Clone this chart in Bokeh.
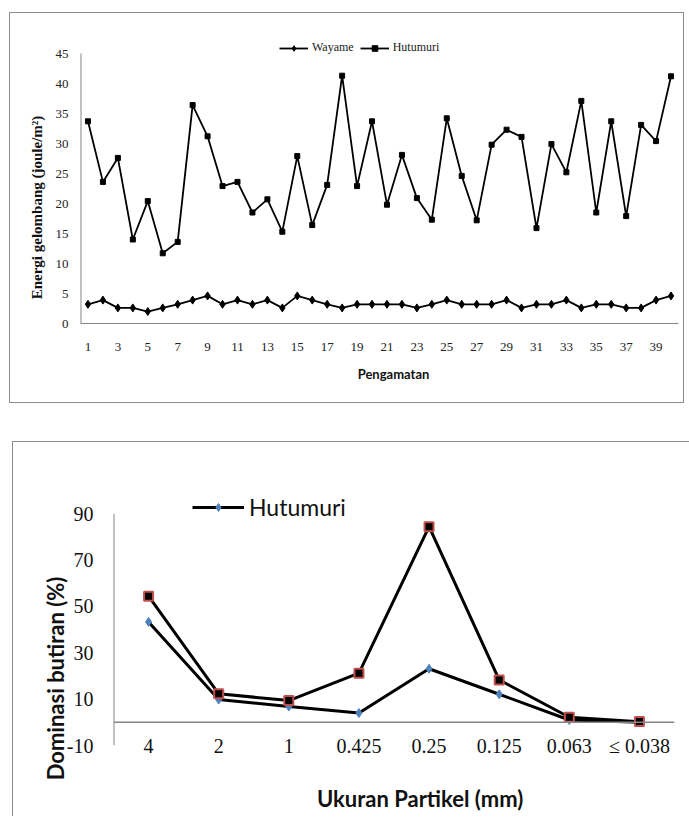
import math
from bokeh.plotting import figure
from bokeh.models import (Legend, LegendItem, Span, FixedTicker, Range1d, LinearAxis,
                          PrintfTickFormatter)
from bokeh.layouts import column
from bokeh.embed import file_html
from bokeh.resources import INLINE

# ---------------- top chart data ----------------
observations = list(range(1, 41))
wayame_energy = [3.2, 3.9, 2.6, 2.6, 2.0, 2.6, 3.2, 3.9, 4.6, 3.2,
                 3.9, 3.2, 3.9, 2.6, 4.6, 3.9, 3.2, 2.6, 3.2, 3.2,
                 3.2, 3.2, 2.6, 3.2, 3.9, 3.2, 3.2, 3.2, 3.9, 2.6,
                 3.2, 3.2, 3.9, 2.6, 3.2, 3.2, 2.6, 2.6, 3.9, 4.6]
hutumuri_energy = [33.7, 23.6, 27.6, 14.0, 20.4, 11.7, 13.6, 36.4, 31.2, 22.9,
                   23.6, 18.5, 20.7, 15.3, 27.9, 16.4, 23.1, 41.3, 22.9, 33.7,
                   19.8, 28.1, 20.9, 17.3, 34.2, 24.6, 17.2, 29.8, 32.3, 31.1,
                   15.9, 29.9, 25.2, 37.1, 18.5, 33.7, 17.9, 33.1, 30.4, 41.2]
top_x_ticks = list(range(1, 40, 2))
top_y_ticks = list(range(0, 50, 5))
top_y_title = "Energi gelombang (joule/m\u00b2)"
top_x_title = "Pengamatan"

# ---------------- bottom chart data ----------------
particle_sizes = ["4", "2", "1", "0.425", "0.25", "0.125", "0.063", "\u2264 0.038"]
hutumuri_pct = [43.3, 9.8, 6.8, 4.0, 23.1, 12.1, 1.0, 0.0]
second_pct = [54.4, 12.3, 9.4, 21.2, 84.4, 18.3, 2.2, 0.3]
bottom_y_ticks = [-10, 10, 30, 50, 70, 90]
bottom_y_title = "Dominasi butiran (%)"
bottom_x_title = "Ukuran Partikel (mm)"

# category slots for the particle sizes (one unit per size)
size_pos = [i + 0.5 for i in range(len(particle_sizes))]

AXIS_GRAY = "#868686"
FRAME_GRAY = "#8c8c8c"
SERIF = "Liberation Serif"
SANS = "Lato"


def plain_axis(ax, font, size, color, style="normal"):
    ax.major_tick_line_color = None
    ax.minor_tick_line_color = None
    ax.major_tick_out = 0
    ax.minor_tick_out = 0
    ax.major_tick_in = 0
    ax.minor_tick_in = 0
    ax.major_label_text_font = font
    ax.major_label_text_font_size = size
    ax.major_label_text_font_style = style
    ax.major_label_text_color = color


def title_axis(kind, range_name, pos, text, font, size, standoff, side_orient):
    """An axis with a single labelled position, used as a positioned axis title."""
    if kind == "y":
        ax = LinearAxis(y_range_name=range_name)
    else:
        ax = LinearAxis(x_range_name=range_name)
    ax.ticker = FixedTicker(ticks=[pos])
    ax.major_label_overrides = {pos: text}
    ax.major_label_orientation = side_orient
    ax.axis_line_color = None
    plain_axis(ax, font, size, "#111111", "bold")
    ax.major_label_standoff = standoff
    return ax


# ================= TOP CHART =================
p1 = figure(width=675, height=391, x_range=Range1d(0.5, 40.5), y_range=Range1d(0, 47.5),
            output_backend="svg", toolbar_location=None,
            min_border_left=70, min_border_right=7, min_border_top=25, min_border_bottom=81)
p1.margin = (12, 0, 0, 9)
p1.styles = {"border": f"1px solid {FRAME_GRAY}"}
p1.title.visible = False
p1.outline_line_color = None
p1.grid.visible = False
p1.background_fill_color = "white"
p1.border_fill_color = "white"
p1.extra_y_ranges = {"ytitle": Range1d(0, 1)}
p1.extra_x_ranges = {"xtitle": Range1d(0, 1)}

# y axis line from the lowest to the highest tick
p1.segment(x0=[p1.x_range.start], y0=[top_y_ticks[0]], x1=[p1.x_range.start], y1=[top_y_ticks[-1]],
           line_color=AXIS_GRAY, line_width=2)

lw = p1.line(observations, wayame_energy, line_color="black", line_width=1.8)
sw = p1.scatter(observations, wayame_energy, marker="diamond", size=8, color="black")
lh = p1.line(observations, hutumuri_energy, line_color="black", line_width=1.8)
sh = p1.scatter(observations, hutumuri_energy, marker="square", size=5, color="black")

plain_axis(p1.xaxis[0], SERIF, "13px", "#222222")
plain_axis(p1.yaxis[0], SERIF, "13px", "#222222")
p1.xaxis[0].axis_line_color = AXIS_GRAY
p1.yaxis[0].axis_line_color = None
p1.xaxis[0].ticker = FixedTicker(ticks=top_x_ticks)
p1.xaxis[0].major_label_standoff = 19
p1.yaxis[0].ticker = FixedTicker(ticks=top_y_ticks)
p1.yaxis[0].major_label_standoff = 12

p1.add_layout(title_axis("y", "ytitle", 0.407, top_y_title, SERIF, "15px", 7, "parallel"), "left")
p1.add_layout(title_axis("x", "xtitle", 0.5234, top_x_title, SANS, "13px", 12, "horizontal"), "below")

leg1 = Legend(items=[LegendItem(label="Wayame", renderers=[lw, sw]),
                     LegendItem(label="Hutumuri", renderers=[lh, sh])],
              location=(199, 268), orientation="horizontal",
              glyph_width=29, glyph_height=14, label_height=14, label_standoff=4, spacing=6,
              padding=0, margin=0, border_line_color=None, background_fill_alpha=0,
              label_text_font=SERIF, label_text_font_size="12px", label_text_color="#222222")
p1.add_layout(leg1)

# ================= BOTTOM CHART =================
p2 = figure(width=645, height=374, x_range=Range1d(0, len(particle_sizes)), y_range=Range1d(-10, 100),
            output_backend="svg", toolbar_location=None,
            min_border_left=77, min_border_right=7, min_border_top=48, min_border_bottom=71)
p2.margin = (0, 8, 0, 23)
p2.title.visible = False
p2.outline_line_color = None
p2.grid.visible = False
p2.background_fill_color = "white"
p2.border_fill_color = "white"
p2.extra_y_ranges = {"ytitle": Range1d(0, 1)}
p2.extra_x_ranges = {"xtitle": Range1d(0, 1)}

p2.add_layout(Span(location=0, dimension="width", line_color=AXIS_GRAY, line_width=1.5))
p2.segment(x0=[p2.x_range.start], y0=[bottom_y_ticks[0]], x1=[p2.x_range.start], y1=[bottom_y_ticks[-1]],
           line_color=AXIS_GRAY, line_width=2)

la = p2.line(size_pos, hutumuri_pct, line_color="black", line_width=3)
sa = p2.scatter(size_pos, hutumuri_pct, marker="diamond", size=9,
                fill_color="#4F81BD", line_color="#4F81BD")
lb = p2.line(size_pos, second_pct, line_color="black", line_width=3)
sb = p2.scatter(size_pos, second_pct, marker="square", size=9,
                fill_color="black", line_color="#C0504D", line_width=2)

plain_axis(p2.xaxis[0], SERIF, "20px", "#111111")
plain_axis(p2.yaxis[0], SERIF, "20px", "#111111")
p2.xaxis[0].axis_line_color = None
p2.xaxis[0].ticker = FixedTicker(ticks=size_pos)
p2.xaxis[0].major_label_overrides = dict(zip(size_pos, particle_sizes))
p2.xaxis[0].major_label_standoff = -11
p2.yaxis[0].axis_line_color = None
p2.yaxis[0].ticker = FixedTicker(ticks=bottom_y_ticks)
p2.yaxis[0].formatter = PrintfTickFormatter(format="%d")
p2.yaxis[0].major_label_standoff = 20

p2.add_layout(title_axis("y", "ytitle", 0.2627, bottom_y_title, SANS, "22px", -6, "parallel"), "left")
p2.add_layout(title_axis("x", "xtitle", 0.5465, bottom_x_title, SANS, "22px", 25, "horizontal"), "below")

leg2 = Legend(items=[LegendItem(label="Hutumuri", renderers=[la, sa])],
              location=(79, 224), orientation="horizontal",
              glyph_width=52, glyph_height=20, label_standoff=5,
              padding=0, margin=0, border_line_color=None, background_fill_alpha=0,
              label_text_font=SANS, label_text_font_size="23px", label_text_color="#111111")
p2.add_layout(leg2)

box2 = column(p2)
box2.margin = (38, 0, 0, 12)
box2.styles = {"border-top": f"1px solid {FRAME_GRAY}", "border-left": f"1px solid {FRAME_GRAY}"}

layout = column(p1, box2)
open("out.html", "w").write(file_html(layout, INLINE))
